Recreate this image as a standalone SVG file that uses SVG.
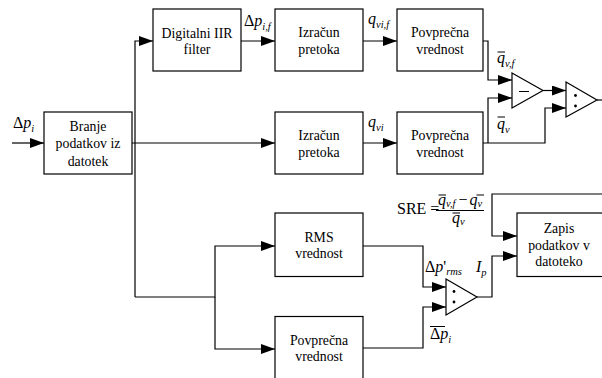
<svg xmlns="http://www.w3.org/2000/svg" width="602" height="378" viewBox="0 0 602 378">
<style>
text{font-family:'Liberation Serif','Times New Roman',serif}
.box{fill:#fff;stroke:#000;stroke-width:1.2}
.bt{font-size:13.8px;fill:#000;text-anchor:middle}
.ln{fill:none;stroke:#000;stroke-width:1.2}
.lbl{font-size:16px;fill:#000}
.it{font-style:italic}
.sub{font-size:10.5px;font-style:italic}
.ol{stroke:#000;stroke-width:1}
</style>
<defs>
<marker id="ah" markerUnits="userSpaceOnUse" markerWidth="14" markerHeight="10" refX="14" refY="5" orient="auto">
<path d="M0,0 L14,5 L0,10 Z" fill="#000"/>
</marker>
</defs>
<g id="connectors" class="ln">
<path d="M12,143 H44" marker-end="url(#ah)"/>
<path d="M132,143 H275" marker-end="url(#ah)"/>
<path d="M135,297 V41 H153" marker-end="url(#ah)"/>
<path d="M135,297 H215 V246 H275" marker-end="url(#ah)"/>
<path d="M215,297 V349 H275" marker-end="url(#ah)"/>
<path d="M241,41 H275" marker-end="url(#ah)"/>
<path d="M363,41 H397" marker-end="url(#ah)"/>
<path d="M363,143 H397" marker-end="url(#ah)"/>
<path d="M483,41 H488 V80 H512" marker-end="url(#ah)"/>
<path d="M483,143 H545 V108 H566" marker-end="url(#ah)"/>
<path d="M488,143 V98 H512" marker-end="url(#ah)"/>
<path d="M543,90.5 H566" marker-end="url(#ah)"/>
<path d="M597,100 H602"/>
<path d="M363,246 H423 V287 H446" marker-end="url(#ah)"/>
<path d="M363,348 H423 V307 H446" marker-end="url(#ah)"/>
<path d="M477,297 H492 V256 H517" marker-end="url(#ah)"/>
<path d="M602,194 H492 V236 H517" marker-end="url(#ah)"/>
</g>
<g id="branje"><rect class="box" x="44" y="112" width="88" height="62"/>
<text class="bt" x="88" y="130.5">Branje</text><text class="bt" x="88" y="148">podatkov iz</text><text class="bt" x="88" y="165.5">datotek</text></g>
<g id="iir"><rect class="box" x="153" y="9" width="88" height="62"/>
<text class="bt" x="197" y="37.5">Digitalni IIR</text><text class="bt" x="197" y="54">filter</text></g>
<g id="izracun1"><rect class="box" x="275" y="9" width="88" height="62"/>
<text class="bt" x="319" y="37">Izračun</text><text class="bt" x="319" y="53.5">pretoka</text></g>
<g id="povp1"><rect class="box" x="397" y="9" width="86" height="62"/>
<text class="bt" x="440" y="37">Povprečna</text><text class="bt" x="440" y="53.5">vrednost</text></g>
<g id="izracun2"><rect class="box" x="275" y="112" width="88" height="62"/>
<text class="bt" x="319" y="140">Izračun</text><text class="bt" x="319" y="156.5">pretoka</text></g>
<g id="povp2"><rect class="box" x="397" y="112" width="86" height="62"/>
<text class="bt" x="440" y="140">Povprečna</text><text class="bt" x="440" y="156.5">vrednost</text></g>
<g id="rms"><rect class="box" x="275" y="213" width="88" height="63.5"/>
<text class="bt" x="319" y="241.5">RMS</text><text class="bt" x="319" y="258">vrednost</text></g>
<g id="povp3"><rect class="box" x="275" y="316.5" width="88" height="63"/>
<text class="bt" x="319" y="344.5">Povprečna</text><text class="bt" x="319" y="361">vrednost</text></g>
<g id="zapis"><rect class="box" x="517" y="213" width="86" height="63.5"/>
<text class="bt" x="559" y="232.5">Zapis</text><text class="bt" x="559" y="249.5">podatkov v</text><text class="bt" x="559" y="266">datoteko</text></g>
<g id="minus"><path class="box" d="M512,73 L543,90.5 L512,108 Z"/><path class="ol" d="M519,91.5 H529"/></g>
<g id="div1"><path class="box" d="M566,82 L597,100 L566,117 Z"/><circle cx="575.5" cy="95.5" r="1.4"/><circle cx="575.5" cy="106" r="1.4"/></g>
<g id="div2"><path class="box" d="M446,279 L477,297 L446,315 Z"/><circle cx="454" cy="291.5" r="1.4"/><circle cx="454" cy="302" r="1.4"/></g>
<g id="labels">
<text class="lbl" x="13" y="128">Δ<tspan class="it">p</tspan><tspan class="sub" dy="4">i</tspan></text>
<text class="lbl" x="244" y="26">Δ<tspan class="it">p</tspan><tspan class="sub" dy="4">i,f</tspan></text>
<text class="lbl" x="368" y="24"><tspan class="it">q</tspan><tspan class="sub" dy="4">vi,f</tspan></text>
<text class="lbl" x="368" y="127"><tspan class="it">q</tspan><tspan class="sub" dy="4">vi</tspan></text>
<text class="lbl" x="497" y="63"><tspan class="it">q</tspan><tspan class="sub" dy="4">v,f</tspan></text>
<path class="ol" d="M497.5,52 H505"/>
<text class="lbl" x="497" y="129"><tspan class="it">q</tspan><tspan class="sub" dy="4">v</tspan></text>
<path class="ol" d="M497.5,117 H505"/>
<text class="lbl" x="425" y="271.5">Δ<tspan class="it">p</tspan>'<tspan class="sub" dy="3">rms</tspan></text>
<text class="lbl" x="476" y="272"><tspan class="it">I</tspan><tspan class="sub" dy="4">p</tspan></text>
<text class="lbl" x="430" y="339">Δ<tspan class="it">p</tspan><tspan class="sub" dy="4">i</tspan></text>
<path class="ol" d="M430,326.5 H445"/>
<text class="lbl" x="397" y="214" font-size="14.5px">SRE =</text>
<text class="lbl" x="438" y="205" font-size="14px"><tspan class="it">q</tspan><tspan class="sub" font-size="8px" dy="2">v,f</tspan><tspan dy="-2" dx="3">−</tspan><tspan class="it" dx="2">q</tspan><tspan class="sub" font-size="8px" dy="2">v</tspan></text>
<path class="ol" d="M438.5,195 H446 M476.5,195 H484"/>
<path class="ol" d="M436,210.5 H484"/>
<text class="lbl" x="452" y="222.5" font-size="14px"><tspan class="it">q</tspan><tspan class="sub" font-size="8px" dy="2">v</tspan></text>
<path class="ol" d="M452.5,213 H460"/>
</g>
</svg>
